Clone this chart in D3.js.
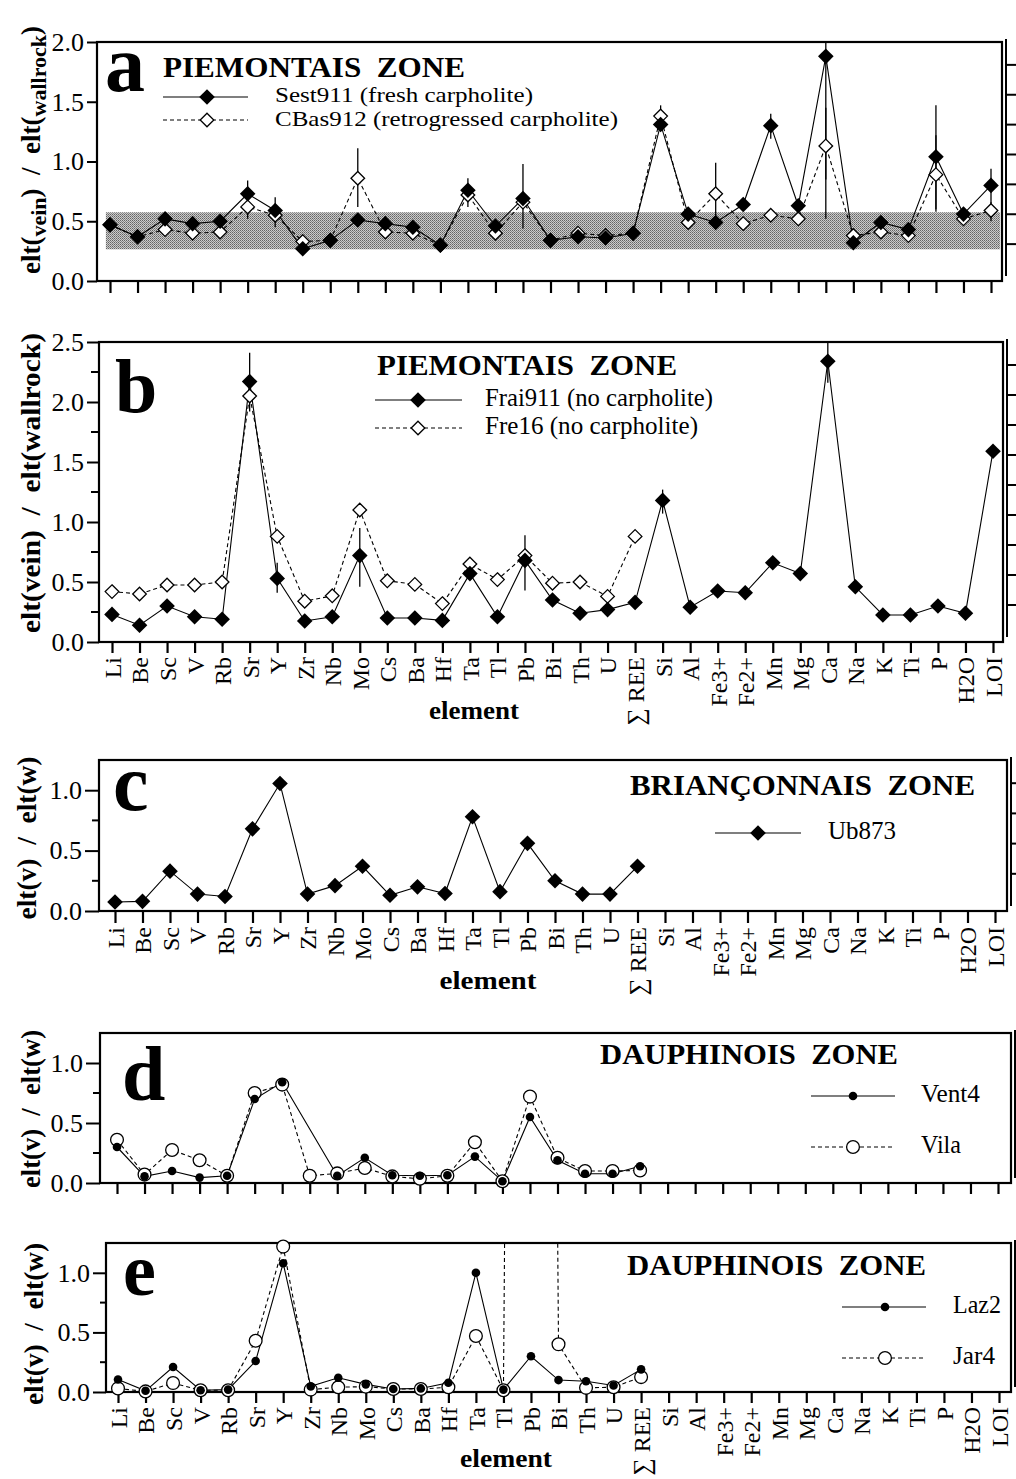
<!DOCTYPE html>
<html><head><meta charset="utf-8">
<script src="https://cdn.jsdelivr.net/npm/d3@7"></script>
<style>body{margin:0;background:#fff} svg{display:block} text{font-family:"Liberation Serif","Times New Roman",serif;white-space:pre}</style>
</head><body><svg id="chart" width="1016" height="1479"></svg>
<script>
// ---------- data ----------
const elements = ["Li","Be","Sc","V","Rb","Sr","Y","Zr","Nb","Mo","Cs","Ba","Hf","Ta","Tl","Pb","Bi","Th","U","\u2211 REE","Si","Al","Fe3+","Fe2+","Mn","Mg","Ca","Na","K","Ti","P","H2O","LOI"];
const N13 = [null,null,null,null,null,null,null,null,null,null,null,null,null];

// panel a : Piemontais zone
const sest911 = [0.47,0.37,0.52,0.48,0.50,0.73,0.59,0.27,0.34,0.51,0.48,0.45,0.30,0.76,0.46,0.69,0.34,0.37,0.36,0.40,1.31,0.56,0.49,0.64,1.30,0.63,1.88,0.32,0.49,0.43,1.04,0.56,0.80];
const cbas912 = [0.47,0.37,0.43,0.40,0.41,0.62,0.55,0.33,0.34,0.86,0.41,0.40,0.30,0.72,0.40,0.66,0.34,0.40,0.38,0.40,1.38,0.49,0.73,0.48,0.55,0.52,1.13,0.38,0.41,0.38,0.89,0.52,0.59];
const sest911Err = [["Sr",0.62,0.84],["Y",0.45,0.70],["Ta",0.62,0.86],["Pb",0.44,0.98],["Mn",1.19,1.40],["Ca",0.52,2.05],["P",0.58,1.47],["LOI",0.65,0.94]];
const cbas912Err = [["Sr",0.52,0.67],["Mo",0.62,1.11],["Si",1.30,1.47],["Fe3+",0.45,0.99],["Ca",0.85,1.45],["P",0.60,1.22],["LOI",0.50,0.66]];
const bandA = {lo:0.265, hi:0.575};

// panel b : Piemontais zone
const frai911 = [0.23,0.14,0.30,0.21,0.19,2.17,0.53,0.175,0.21,0.72,0.20,0.20,0.18,0.57,0.21,0.68,0.35,0.24,0.27,0.33,1.18,0.29,0.425,0.41,0.66,0.57,2.34,0.46,0.225,0.225,0.30,0.24,1.59];
const fre16 = [0.42,0.40,0.475,0.475,0.50,2.05,0.88,0.34,0.385,1.10,0.51,0.48,0.32,0.65,0.52,0.72,0.49,0.50,0.38,0.88].concat(N13);
const frai911Err = [["Sr",1.92,2.41],["Y",0.41,0.66],["Mo",0.46,0.95],["Pb",0.43,0.89],["Si",1.07,1.27],["Ca",2.16,2.60]];

// panel c : Briançonnais zone
const ub873 = [0.075,0.08,0.33,0.14,0.12,0.68,1.055,0.14,0.21,0.37,0.13,0.20,0.145,0.78,0.16,0.56,0.25,0.14,0.14,0.37].concat(N13);

// panel d : Dauphinois zone
const vent4 = [0.30,0.055,0.10,0.045,0.06,0.70,0.84,null,0.06,0.21,0.065,0.06,0.065,0.22,0.015,0.55,0.19,0.077,0.077,0.14].concat(N13);
const vila = [0.36,0.07,0.275,0.19,0.06,0.75,0.82,0.06,0.08,0.125,0.055,0.035,0.06,0.34,0.015,0.72,0.21,0.10,0.10,0.105].concat(N13);

// panel e : Dauphinois zone (Jar4 Pb is far off scale)
const laz2 = [0.105,0.01,0.21,0.015,0.02,0.26,1.08,0.047,0.12,0.064,0.025,0.03,0.078,1.00,0.02,0.30,0.10,0.09,0.055,0.19].concat(N13);
const jar4 = [0.03,0.005,0.075,0.015,0.015,0.43,1.22,0.02,0.04,0.045,0.025,0.025,0.04,0.47,0.015,30,0.40,0.035,0.04,0.125].concat(N13);

const ticks20 = [0,0.5,1.0,1.5,2.0];
const ticks25 = [0,0.5,1.0,1.5,2.0,2.5];
const minor25 = [0.25,0.75,1.25,1.75,2.25];
const ticks125 = [0,0.5,1.0];
const minor125 = [0.25,0.75];

// ---------- drawing ----------
const FONT = '"Liberation Serif","Times New Roman",serif';
const svg = d3.select("#chart");
const defs = svg.append("defs");
const pat = defs.append("pattern").attr("id","stip").attr("width",2).attr("height",2).attr("patternUnits","userSpaceOnUse");
pat.append("rect").attr("width",2).attr("height",2).attr("fill","#cbcbcb");
pat.append("rect").attr("width",1).attr("height",1).attr("fill","#646464");
pat.append("rect").attr("x",1).attr("y",1).attr("width",1).attr("height",1).attr("fill","#858585");

function diamondPath(s){ return `M0,${-s}L${s},0L0,${s}L${-s},0Z`; }

function marker(g, kind, cx, cy){
  if(kind==="fd") g.append("path").attr("d",diamondPath(7.8)).attr("transform",`translate(${cx},${cy})`).attr("fill","#000");
  else if(kind==="od") g.append("path").attr("d",diamondPath(6.8)).attr("transform",`translate(${cx},${cy})`).attr("fill","#fff").attr("stroke","#000").attr("stroke-width",1.3);
  else if(kind==="fc") g.append("circle").attr("cx",cx).attr("cy",cy).attr("r",4.3).attr("fill","#000");
  else if(kind==="oc") g.append("circle").attr("cx",cx).attr("cy",cy).attr("r",6.4).attr("fill","#fff").attr("stroke","#000").attr("stroke-width",1.3);
}

function drawPanel(p){
  const g = svg.append("g");
  const x = d3.scalePoint().domain(elements).range([p.x0,p.x1]);
  const y = d3.scaleLinear().domain([0,p.ymax]).range([p.bottom,p.top]);
  const clipId = "clip_"+p.id;
  defs.append("clipPath").attr("id",clipId).append("rect")
    .attr("x",p.left).attr("y",p.top).attr("width",p.right-p.left).attr("height",p.bottom-p.top);

  if(p.band){
    const bx = d3.scaleLinear().domain([0,elements.length-1]).range([p.x0,p.x1]);
    g.append("rect").attr("x",bx(-0.15)).attr("width",bx(32.33)-bx(-0.15))
      .attr("y",y(p.band.hi)).attr("height",y(p.band.lo)-y(p.band.hi)).attr("fill","url(#stip)");
  }

  // left axis
  const la = g.append("g").attr("transform",`translate(${p.left},0)`)
    .call(d3.axisLeft(y).tickValues(p.majors).tickSize(p.majorLen).tickPadding(p.pad).tickFormat(d3.format(".1f")));
  la.select(".domain").remove();
  la.attr("font-family",FONT).attr("font-size",26);
  la.selectAll("line").attr("stroke-width",2);
  la.selectAll("text").attr("fill","#000");
  if(p.minors){
    g.selectAll(null).data(p.minors).join("line")
      .attr("x1",p.left-p.minorLen).attr("x2",p.left).attr("y1",d=>y(d)).attr("y2",d=>y(d))
      .attr("stroke","#000").attr("stroke-width",2);
  }

  // bottom axis
  const ba = g.append("g").attr("transform",`translate(0,${p.bottom})`)
    .call(d3.axisBottom(x).tickSize(p.tickLen).tickFormat(p.labels ? (d=>d) : (()=>"")));
  ba.select(".domain").remove();
  ba.attr("font-family",FONT).attr("font-size",24);
  ba.selectAll("line").attr("stroke-width",2.2);
  if(p.labels){
    ba.selectAll("text").attr("fill","#000").attr("y",0).attr("x",-(p.tickLen+4)).attr("dy","0.35em")
      .attr("transform","rotate(-90)").attr("text-anchor","end");
  }

  // right axis (offset outer scale)
  const yr = y.copy().range([p.bottom-7,p.top-7]);
  const rTicks = d3.range(0.25,p.ymax-0.01,0.25);
  g.append("line").attr("x1",p.right+4).attr("x2",p.right+4).attr("y1",p.top-3).attr("y2",p.bottom-5).attr("stroke","#000").attr("stroke-width",2);
  g.selectAll(null).data(rTicks).join("line")
    .attr("x1",p.right+4).attr("x2",p.right+14).attr("y1",d=>yr(d)).attr("y2",d=>yr(d))
    .attr("stroke","#000").attr("stroke-width",2);

  // frame
  g.append("rect").attr("x",p.left).attr("y",p.top).attr("width",p.right-p.left).attr("height",p.bottom-p.top)
    .attr("fill","none").attr("stroke","#000").attr("stroke-width",2.2);

  // series lines (last series first)
  const ser = p.series.slice().reverse();
  ser.forEach(s=>{
    const pts = elements.map((e,i)=>({e,v:s.values[i]})).filter(d=>d.v!=null);
    g.append("path").datum(pts).attr("d",d3.line().x(d=>x(d.e)).y(d=>y(d.v)))
      .attr("fill","none").attr("stroke","#000").attr("stroke-width",1.1)
      .attr("stroke-dasharray",s.dashed?"4,3":null).attr("clip-path",`url(#${clipId})`);
  });
  ser.forEach(s=>{
    (s.errors||[]).forEach(([e,lo,hi])=>{
      g.append("line").attr("x1",x(e)).attr("x2",x(e)).attr("y1",y(lo)).attr("y2",y(hi))
        .attr("stroke","#000").attr("stroke-width",1.3).attr("clip-path",`url(#${clipId})`);
    });
  });
  ser.forEach(s=>{
    elements.forEach((e,i)=>{ const v=s.values[i]; if(v!=null && v<=p.ymax*1.05) marker(g,s.marker,x(e),y(v)); });
  });

  // panel letter + title
  svg.append("text").attr("x",p.letter.x).attr("y",p.letter.y).attr("font-size",p.letter.size).attr("font-weight","bold").text(p.id);
  svg.append("text").attr("x",p.title.x).attr("y",p.title.y).attr("font-size",29).attr("font-weight","bold")
    .attr("textLength",p.title.len).attr("lengthAdjust","spacingAndGlyphs").text(p.title.text);

  // legend
  p.legend.forEach((L,i)=>{
    const s = p.series[i];
    svg.append("line").attr("x1",L.x1).attr("x2",L.x2).attr("y1",L.y).attr("y2",L.y).attr("stroke","#000").attr("stroke-width",1.1).attr("stroke-dasharray",s.dashed?"4,3":null);
    marker(svg,s.marker,L.m,L.y);
    svg.append("text").attr("x",L.tx).attr("y",L.y+L.dy).attr("font-size",L.fs||25)
      .attr("textLength",L.len).attr("lengthAdjust","spacingAndGlyphs").text(s.name);
  });

  // y title
  if(p.ytitle){
    const t = svg.append("text").attr("transform",`translate(${p.ytitle.x},${p.ytitle.y}) rotate(-90)`)
      .attr("text-anchor","middle").attr("font-size",27).attr("font-weight","bold");
    if(p.ytitle.sub){
      t.append("tspan").text("elt(");
      t.append("tspan").attr("font-size",22).attr("dy",6).text("vein");
      t.append("tspan").attr("dy",-6).text(")  /  elt(");
      t.append("tspan").attr("font-size",22).attr("dy",6).text("wallrock");
      t.append("tspan").attr("dy",-6).text(")");
    } else {
      t.attr("textLength",p.ytitle.len).attr("lengthAdjust","spacingAndGlyphs").text(p.ytitle.text);
    }
  }
  if(p.xtitle){
    svg.append("text").attr("x",p.xtitle.x).attr("y",p.xtitle.y).attr("text-anchor","middle").attr("font-size",26).attr("font-weight","bold")
      .attr("textLength",p.xtitle.len).attr("lengthAdjust","spacingAndGlyphs").text("element");
  }
}

drawPanel({id:"a", left:97,right:1002,top:42,bottom:281, x0:110,x1:991, ymax:2, majors:ticks20, majorLen:10, pad:3, minors:null, tickLen:12, labels:false,
  band:bandA,
  series:[{name:"Sest911 (fresh carpholite)",values:sest911,marker:"fd",dashed:false,errors:sest911Err},
          {name:"CBas912 (retrogressed carpholite)",values:cbas912,marker:"od",dashed:true,errors:cbas912Err}],
  letter:{x:105,y:91,size:80}, title:{x:163,y:77,len:302,text:"PIEMONTAIS  ZONE"},
  legend:[{x1:163,x2:248,y:97,m:207,tx:275,dy:5,len:258,fs:21},{x1:163,x2:248,y:120,m:207,tx:275,dy:6,len:343,fs:21}],
  ytitle:{x:40,y:150,sub:true}, xtitle:null});

drawPanel({id:"b", left:99,right:1003,top:342,bottom:642, x0:112,x1:993, ymax:2.5, majors:ticks25, majorLen:12, pad:3, minors:minor25, minorLen:8, tickLen:11, labels:true,
  series:[{name:"Frai911 (no carpholite)",values:frai911,marker:"fd",dashed:false,errors:frai911Err},
          {name:"Fre16 (no carpholite)",values:fre16,marker:"od",dashed:true}],
  letter:{x:115,y:412,size:76}, title:{x:377,y:375,len:300,text:"PIEMONTAIS  ZONE"},
  legend:[{x1:375,x2:462,y:400,m:418,tx:485,dy:6,len:228},{x1:375,x2:462,y:428,m:418,tx:485,dy:6,len:213}],
  ytitle:{x:40,y:483,len:300,text:"elt(vein)  /  elt(wallrock)"}, xtitle:{x:474,y:719,len:90}});

drawPanel({id:"c", left:99,right:1007,top:760,bottom:911, x0:115,x1:995, ymax:1.25, majors:ticks125, majorLen:14, pad:3, minors:minor125, minorLen:7, tickLen:12, labels:true,
  series:[{name:"Ub873",values:ub873,marker:"fd",dashed:false}],
  letter:{x:113,y:810,size:80}, title:{x:630,y:795,len:345,text:"BRIAN\u00c7ONNAIS  ZONE"},
  legend:[{x1:715,x2:801,y:833,m:758,tx:828,dy:6,len:68}],
  ytitle:{x:36,y:838,len:163,text:"elt(v)  /  elt(w)"}, xtitle:{x:488,y:989,len:97}});

drawPanel({id:"d", left:100,right:1011,top:1033,bottom:1183, x0:117,x1:998, ymax:1.25, majors:ticks125, majorLen:14, pad:3, minors:minor125, minorLen:7, tickLen:11, labels:false,
  series:[{name:"Vent4",values:vent4,marker:"fc",dashed:false},
          {name:"Vila",values:vila,marker:"oc",dashed:true}],
  letter:{x:122,y:1100,size:78}, title:{x:600,y:1064,len:298,text:"DAUPHINOIS  ZONE"},
  legend:[{x1:811,x2:895,y:1096,m:853,tx:921,dy:6,len:59},{x1:811,x2:895,y:1147,m:853,tx:921,dy:6,len:40}],
  ytitle:{x:40,y:1109,len:158,text:"elt(v)  /  elt(w)"}, xtitle:null});

drawPanel({id:"e", left:106,right:1011,top:1243,bottom:1392, x0:118,x1:999, ymax:1.25, majors:ticks125, majorLen:13, pad:3, minors:minor125, minorLen:6, tickLen:11, labels:true,
  series:[{name:"Laz2",values:laz2,marker:"fc",dashed:false},
          {name:"Jar4",values:jar4,marker:"oc",dashed:true}],
  letter:{x:123,y:1295,size:74}, title:{x:627,y:1275,len:299,text:"DAUPHINOIS  ZONE"},
  legend:[{x1:842,x2:926,y:1307,m:885,tx:953,dy:6,len:48},{x1:842,x2:926,y:1358,m:885,tx:953,dy:6,len:42}],
  ytitle:{x:43,y:1324,len:162,text:"elt(v)  /  elt(w)"}, xtitle:{x:506,y:1467,len:92}});
</script></body></html>
